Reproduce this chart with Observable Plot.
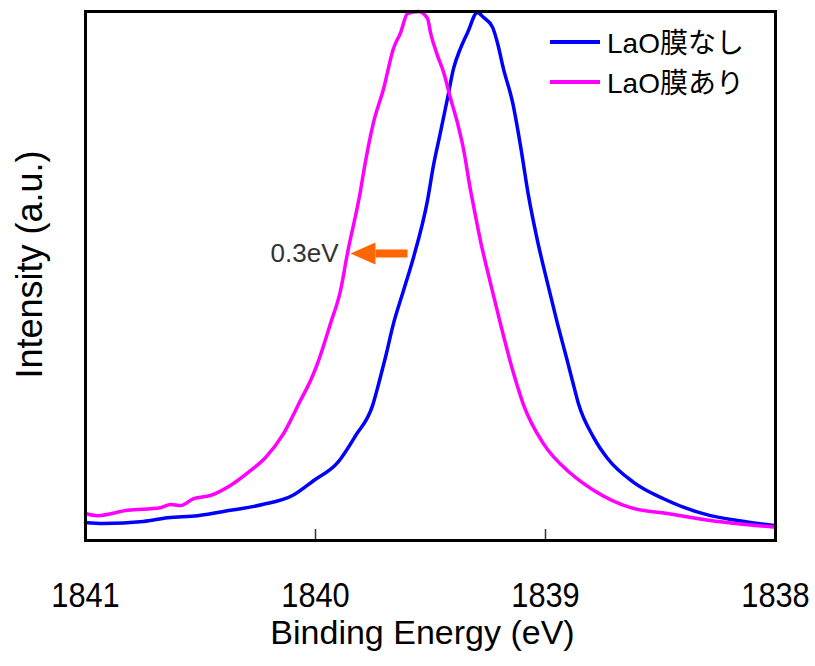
<!DOCTYPE html>
<html>
<head>
<meta charset="utf-8">
<script src="https://cdn.jsdelivr.net/npm/d3@7"></script>
<script src="https://cdn.jsdelivr.net/npm/@observablehq/plot@0.6"></script>
<style>
  html, body { margin: 0; padding: 0; background: #fff; }
  #wrap { position: relative; width: 815px; height: 666px; }
  .sw { position: absolute; left: 550px; width: 50px; height: 4px; }
  .lt { position: absolute; left: 607px; height: 32px; line-height: 32px; white-space: nowrap;
        font-family: "Liberation Sans", "Noto Sans CJK JP", sans-serif; font-size: 28px; color: #000; }
</style>
</head>
<body>
<div id="wrap"></div>
<script>
// ---- data ----
const seriesNames = ["LaO膜なし", "LaO膜あり"];
const seriesColors = ["#0000ff", "#ff00ff"];

// LaO膜なし (blue)
const energyNone = [1841.000, 1840.922, 1840.748, 1840.643, 1840.513, 1840.370, 1840.230, 1840.100, 1840.009,
  1839.904, 1839.826, 1839.752, 1839.722, 1839.696, 1839.661, 1839.617, 1839.574, 1839.513, 1839.487,
  1839.457, 1839.426, 1839.400, 1839.370, 1839.339, 1839.296, 1839.270, 1839.230, 1839.209, 1839.183,
  1839.143, 1839.109, 1839.074, 1839.035, 1838.991, 1838.948, 1838.909, 1838.883, 1838.857, 1838.791,
  1838.730, 1838.617, 1838.487, 1838.283, 1838.165, 1838.000];
const intensityNone = [0.034, 0.032, 0.036, 0.043, 0.047, 0.057, 0.068, 0.085, 0.113,
  0.147, 0.198, 0.255, 0.302, 0.346, 0.410, 0.473, 0.535, 0.643, 0.709,
  0.771, 0.836, 0.892, 0.930, 0.960, 0.998, 0.989, 0.970, 0.941, 0.892,
  0.828, 0.747, 0.652, 0.567, 0.486, 0.410, 0.346, 0.302, 0.259, 0.195,
  0.155, 0.110, 0.079, 0.047, 0.038, 0.028];

// LaO膜あり (magenta)
const energyWith = [1841.000, 1840.948, 1840.817, 1840.674, 1840.630, 1840.587, 1840.530, 1840.457, 1840.370,
  1840.283, 1840.217, 1840.139, 1840.065, 1840.022, 1839.991, 1839.935, 1839.891, 1839.861, 1839.804,
  1839.791, 1839.748, 1839.704, 1839.661, 1839.630, 1839.600, 1839.552, 1839.513, 1839.500, 1839.470,
  1839.443, 1839.413, 1839.383, 1839.357, 1839.326, 1839.313, 1839.283, 1839.239, 1839.196, 1839.139,
  1839.096, 1839.009, 1838.891, 1838.791, 1838.630, 1838.470, 1838.283, 1838.000];
const intensityWith = [0.051, 0.047, 0.057, 0.062, 0.068, 0.066, 0.079, 0.085, 0.104,
  0.132, 0.157, 0.202, 0.265, 0.302, 0.335, 0.410, 0.473, 0.543, 0.662,
  0.696, 0.790, 0.854, 0.930, 0.960, 0.996, 1.000, 0.987, 0.960, 0.917,
  0.885, 0.836, 0.790, 0.741, 0.662, 0.633, 0.567, 0.486, 0.410, 0.316,
  0.257, 0.183, 0.127, 0.095, 0.062, 0.051, 0.038, 0.025];

const xDomain = [1841, 1838];
const xTickValues = [1841, 1840, 1839, 1838];
const xInnerTicks = [1840, 1839];
const xLabel = "Binding Energy (eV)";
const yLabel = "Intensity (a.u.)";

// annotation
const annotText = ["0.3eV"];
const annotEnergy = [1839.90];
const annotIntensity = [0.543];
const arrowShaftFrom = [1839.600];
const arrowShaftTo = [1839.739];
const arrowTip = [1839.848];
const arrowLevel = [0.5425];
const arrowColor = "#ff6600";

// ---- build ----
const rows = [
  ...energyNone.map((e, i) => ({series: seriesNames[0], energy: e, intensity: intensityNone[i]})),
  ...energyWith.map((e, i) => ({series: seriesNames[1], energy: e, intensity: intensityWith[i]}))
];

const arrowHead = {
  draw(context, size) {
    const l = Math.sqrt(size);
    context.moveTo(0, 0);
    context.lineTo(l, -0.44 * l);
    context.lineTo(l, 0.44 * l);
    context.closePath();
  }
};

const FONT = "'Liberation Sans', 'Noto Sans CJK JP', sans-serif";

const chart = Plot.plot({
  width: 815,
  height: 666,
  marginTop: 11,
  marginBottom: 126,
  marginLeft: 85,
  marginRight: 40,
  style: {fontFamily: FONT, background: "white", overflow: "visible", color: "#000"},
  x: {domain: xDomain},
  y: {domain: [0, 1], axis: null},
  color: {domain: seriesNames, range: seriesColors},
  marks: [
    Plot.line(rows, {x: "energy", y: "intensity", stroke: "series", z: "series", strokeWidth: 3.5,
      strokeLinejoin: "round", curve: "monotone-x"}),
    Plot.axisX(xInnerTicks, {tickSize: -11, tickFormat: () => "", label: null, stroke: "#333", strokeWidth: 1.5}),
    Plot.axisX(xTickValues, {tickSize: 0, tickPadding: 42, label: null, fontSize: 35,
      tickFormat: d => String(d), fill: "#000"}),
    Plot.frame({stroke: "#000", strokeWidth: 3}),
    Plot.text([xLabel], {frameAnchor: "bottom", textAnchor: "middle", dx: -8, dy: 103.5, fontSize: 34, fill: "#000"}),
    Plot.text([yLabel], {frameAnchor: "left", textAnchor: "middle", rotate: -90, dx: -55.5, dy: -11.5, fontSize: 36, fill: "#000"}),
    Plot.text(annotText, {x: annotEnergy, y: annotIntensity, textAnchor: "end", fontSize: 26, fill: "#333"}),
    Plot.link(arrowShaftFrom, {x1: arrowShaftFrom, x2: arrowShaftTo, y1: arrowLevel, y2: arrowLevel, stroke: arrowColor, strokeWidth: 8}),
    Plot.dot(arrowTip, {x: arrowTip, y: arrowLevel, symbol: arrowHead, r: 14.1, fill: arrowColor, stroke: "none"})
  ]
});

// narrow the tick-label glyphs (reference uses a condensed face)
d3.select(chart).selectAll("text").each(function() {
  if (/^18\d\d$/.test(this.textContent.trim())) {
    const t = this.getAttribute("transform") || "";
    this.setAttribute("transform", t + " scale(0.88,1)");
  }
});

const wrap = document.getElementById("wrap");
wrap.appendChild(chart);

// legend (HTML overlay)
const legendRowsY = [42, 82];
seriesNames.forEach((name, i) => {
  const sw = document.createElement("div");
  sw.className = "sw";
  sw.style.top = (legendRowsY[i] - 2) + "px";
  sw.style.background = seriesColors[i];
  wrap.appendChild(sw);
  const t = document.createElement("div");
  t.className = "lt";
  t.style.top = (legendRowsY[i] - 16 + 2) + "px";
  t.textContent = name;
  wrap.appendChild(t);
});
</script>
</body>
</html>
